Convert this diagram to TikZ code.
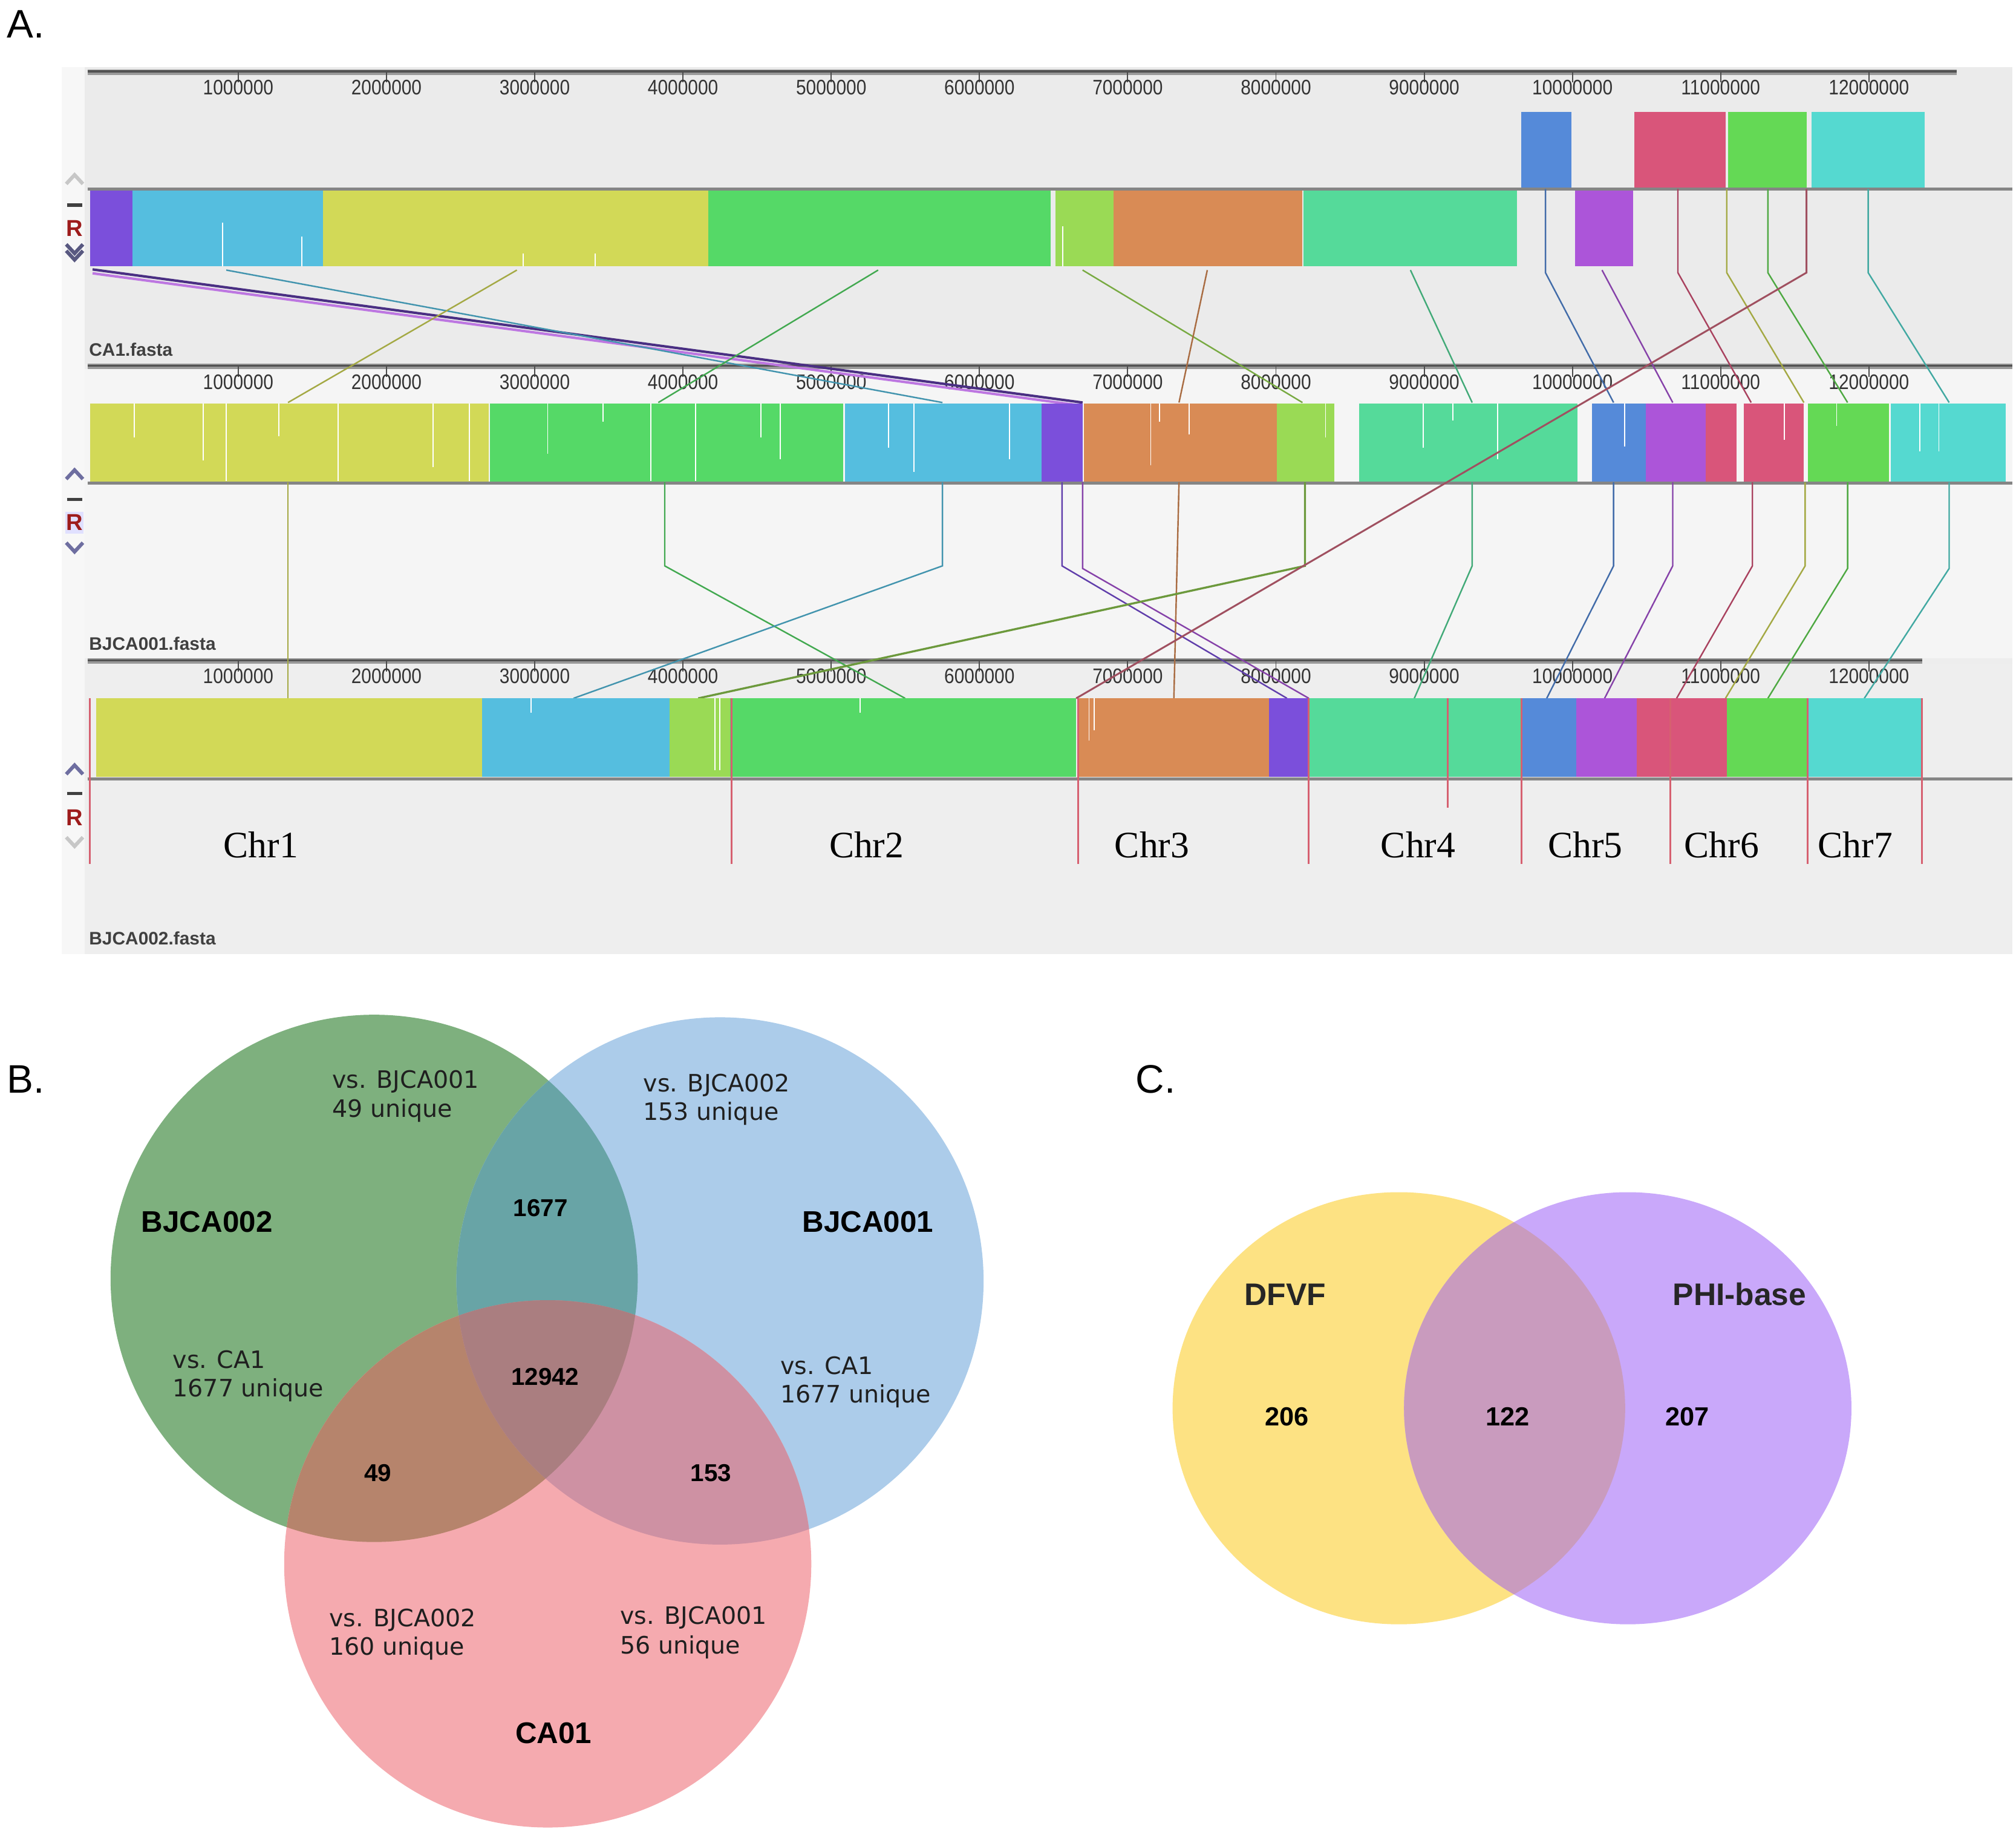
\documentclass[tikz,border=0pt]{standalone}
\usepackage{fontspec}
\setmainfont{Liberation Sans}
\newfontfamily\tickfont[FakeStretch=0.86]{Liberation Sans}
\newfontfamily\vennfont{DejaVu Sans}
\newfontfamily\chrfont{Liberation Serif}
\definecolor{cPur}{RGB}{123,79,219}
\definecolor{cLB}{RGB}{85,190,223}
\definecolor{cYel}{RGB}{210,217,87}
\definecolor{cGrn}{RGB}{85,217,103}
\definecolor{cLG}{RGB}{154,218,85}
\definecolor{cOra}{RGB}{217,139,85}
\definecolor{cTeal}{RGB}{85,218,154}
\definecolor{cBlu}{RGB}{85,138,217}
\definecolor{cMag}{RGB}{172,85,217}
\definecolor{cRed}{RGB}{217,85,122}
\definecolor{cGr2}{RGB}{100,217,85}
\definecolor{cCya}{RGB}{85,217,208}
\definecolor{cDR}{RGB}{160,80,96}
\definecolor{chrred}{RGB}{214,96,112}
\definecolor{rdark}{RGB}{158,28,28}
\definecolor{chev}{RGB}{110,110,160}
\definecolor{vG}{RGB}{126,176,126}
\definecolor{vB}{RGB}{172,204,234}
\definecolor{vR}{RGB}{245,170,175}
\definecolor{vGB}{RGB}{104,164,166}
\definecolor{vGR}{RGB}{182,132,108}
\definecolor{vBR}{RGB}{206,145,163}
\definecolor{vGBR}{RGB}{170,126,128}
\definecolor{cY}{RGB}{253,226,131}
\definecolor{cP}{RGB}{201,168,250}
\definecolor{cYP}{RGB}{201,155,190}
\newcommand\spk[3]{\draw[white, line width=0.5pt] (#1,#2) -- (#1,#3);}
\newcommand\chevup[3]{\draw[line width=1.6pt,#3,line join=miter] (#1-6.5,#2+4) -- (#1,#2-3) -- (#1+6.5,#2+4);}
\newcommand\chevdn[3]{\draw[line width=1.6pt,#3,line join=miter] (#1-6.5,#2-4) -- (#1,#2+3) -- (#1+6.5,#2-4);}
\newcommand\dsh[2]{\draw[line width=1.4pt,black!75] (#1-6,#2) -- (#1+6,#2);}
\begin{document}
\begin{tikzpicture}[x=0.2mm,y=-0.2mm,
  ticklbl/.style={font=\tickfont\fontsize{9.3}{10}\selectfont, text=black!80, inner sep=0, anchor=base},
  fastalbl/.style={font=\bfseries\fontsize{8}{9}\selectfont, text=black!75, inner sep=0, anchor=base west},
  chrlbl/.style={font=\chrfont\fontsize{16.5}{18}\selectfont, inner sep=0, anchor=base},
  rlbl/.style={font=\bfseries\fontsize{10.2}{11}\selectfont, text=rdark, inner sep=0, anchor=base},
  panellbl/.style={font=\fontsize{17.6}{19}\selectfont, inner sep=0, anchor=base west},
  vtxt/.style={font=\vennfont\fontsize{10.6}{12}\selectfont, text=black!88, inner sep=0, anchor=base west},
  vbig/.style={font=\bfseries\fontsize{13.2}{14}\selectfont, inner sep=0, anchor=base},
  vnum/.style={font=\bfseries\fontsize{10.8}{12}\selectfont, inner sep=0, anchor=base},
  cbig/.style={font=\bfseries\fontsize{13.8}{15}\selectfont, text=black!85, inner sep=0, anchor=base},
  cnum/.style={font=\bfseries\fontsize{11.6}{13}\selectfont, inner sep=0, anchor=base},
  ln/.style={draw=#1!78!black, line width=0.65pt},
  chrline/.style={draw=chrred, line width=0.8pt}
]
\useasboundingbox (0,0) rectangle (1568,1424.5);
\fill[white] (0,0) rectangle (1568,1424.5);

% ---------------- Panel A background ----------------
\fill[black!7] (48,52) rectangle (1565,742);
\fill[black!3] (48,52) rectangle (66,742);
\fill[black!8] (66,52) rectangle (1565,283);
\fill[black!4] (66,287) rectangle (1565,512);
\fill[black!6.5] (66,516) rectangle (1565,742);

\node[panellbl] (lblA) at (5,29.5) {A.};

% rulers
\foreach \ry/\rend in {56/1522,285/1565,514/1495} {
  \draw[line width=2.4pt, black!40] (68,\ry) -- (\rend,\ry);
  \draw[line width=0.9pt, black!68] (68,\ry-0.5) -- (\rend,\ry-0.5);
  \foreach \i in {1,...,12} {
    \draw[black!70, line width=0.5pt] ({70+115.3*\i},\ry) -- ({70+115.3*\i},\ry+8);
    \node[ticklbl] (tk-\ry-\i) at ({70+115.3*\i},\ry+17.5) {\i000000};
  }
}
% centre lines
\draw[line width=1.3pt, black!48] (68,147) -- (1565,147);
\draw[line width=1.3pt, black!48] (68,375.5) -- (1565,375.5);
\draw[line width=1.3pt, black!48] (68,605.5) -- (1565,605.5);

% ---------------- connectors track 1 -> 2 ----------------
\draw[line width=1.1pt, draw=cMag!80!white] (72,212.5) -- (838,315);
\draw[line width=1.1pt, draw=cPur!60!black] (72,209.5) -- (842,313);
\draw[ln=cLB] (176,210) -- (733,313);
\draw[ln=cYel] (402,210) -- (224,313);
\draw[ln=cGrn] (683,210) -- (512,313);
\draw[ln=cLG] (842,210) -- (1013,313);
\draw[ln=cOra] (939,210) -- (917,313);
\draw[ln=cTeal] (1097,210) -- (1145,313);
\draw[ln=cBlu] (1202,147) -- (1202,212) -- (1255,313);
\draw[ln=cMag] (1246,210) -- (1301,313);
\draw[ln=cRed] (1305,147) -- (1305,212) -- (1362,313);
\draw[ln=cYel] (1343,147) -- (1343,212) -- (1403,313);
\draw[ln=cGr2] (1375,147) -- (1375,212) -- (1437,313);
\draw[ln=cCya] (1453,147) -- (1453,212) -- (1516,313);

% ---------------- connectors track 2 -> 3 ----------------
\draw[ln=cYel] (224,375) -- (224,543);
\draw[ln=cGrn] (517,375) -- (517,440) -- (704,543);
\draw[ln=cLB] (733,375) -- (733,440) -- (446,543);
\draw[ln=cPur] (826,375) -- (826,440) -- (1001,543);
\draw[ln=cMag] (842,375) -- (842,442) -- (1018,543);
\draw[ln=cOra] (917,375) -- (913,543);
\draw[line width=0.9pt, draw=cLG!70!black] (1015,375) -- (1015,440) -- (543,543);
\draw[ln=cTeal] (1145,375) -- (1145,440) -- (1100,543);
\draw[ln=cBlu] (1255,375) -- (1255,440) -- (1203,543);
\draw[ln=cMag] (1301,375) -- (1301,440) -- (1248,543);
\draw[ln=cRed] (1363,375) -- (1363,440) -- (1304,543);
\draw[ln=cYel] (1404,375) -- (1404,440) -- (1342,543);
\draw[ln=cGr2] (1437,375) -- (1437,442) -- (1375,543);
\draw[ln=cCya] (1516,375) -- (1516,442) -- (1450,543);

% ---------------- track 1 blocks ----------------
\fill[cPur] (70,148) rectangle (103,207);
\fill[cLB] (103,148) rectangle (251,207);
\fill[cYel] (251,148) rectangle (551,207);
\fill[cGrn] (551,148) rectangle (817,207);
\fill[cLG] (821,148) rectangle (866,207);
\fill[cOra] (866,148) rectangle (1013,207);
\fill[cTeal] (1014,148) rectangle (1180,207);
\fill[cMag] (1225,148) rectangle (1270,207);
\fill[cBlu] (1183,87) rectangle (1222,146);
\fill[cRed] (1271,87) rectangle (1342,146);
\fill[cGr2] (1344,87) rectangle (1405,146);
\fill[cCya] (1409,87) rectangle (1497,146);
\spk{173}{207}{173}\spk{234.6}{207}{184}\spk{407}{207}{197}\spk{463}{207}{197}\spk{826.6}{207}{176}

% ---------------- track 2 blocks ----------------
\fill[cYel] (70,314) rectangle (380,374.5);
\fill[cGrn] (381,314) rectangle (656,374.5);
\fill[cLB] (657,314) rectangle (810,374.5);
\fill[cPur] (810,314) rectangle (842,374.5);
\fill[cOra] (843,314) rectangle (993,374.5);
\fill[cLG] (993,314) rectangle (1038,374.5);
\fill[cTeal] (1057,314) rectangle (1227,374.5);
\fill[cBlu] (1238,314) rectangle (1280,374.5);
\fill[cMag] (1280,314) rectangle (1326.5,374.5);
\fill[cRed] (1326.5,314) rectangle (1350.5,374.5);
\fill[cRed] (1356.5,314) rectangle (1403,374.5);
\fill[cGr2] (1406,314) rectangle (1469,374.5);
\fill[cCya] (1470.5,314) rectangle (1560,374.5);
\spk{104.6}{314}{340}\spk{158}{314}{358}\spk{176}{314}{374}\spk{217}{314}{339}\spk{263}{314}{374}\spk{337}{314}{363}\spk{365}{314}{374}
\spk{426}{314}{353}\spk{469}{314}{328}\spk{506}{314}{374}\spk{541}{314}{374}\spk{592}{314}{340}\spk{607}{314}{357}
\spk{691}{314}{348}\spk{711}{314}{367}\spk{785}{314}{357}
\spk{895}{314}{362}\spk{902}{314}{328}\spk{925}{314}{338}
\spk{1031}{314}{340}\spk{1107}{314}{348}\spk{1130}{314}{327}\spk{1165}{314}{357}
\spk{1263.5}{314}{347}\spk{1388}{314}{342}\spk{1428.5}{314}{331}\spk{1493}{314}{351}\spk{1508}{314}{351}

% ---------------- track 3 blocks ----------------
\fill[cYel] (75,543) rectangle (375,604);
\fill[cLB] (375,543) rectangle (521,604);
\fill[cLG] (521,543) rectangle (568,604);
\fill[cGrn] (568,543) rectangle (837,604);
\fill[cOra] (839,543) rectangle (987,604);
\fill[cPur] (987,543) rectangle (1018,604);
\fill[cTeal] (1018,543) rectangle (1184,604);
\fill[cBlu] (1184,543) rectangle (1226,604);
\fill[cMag] (1226,543) rectangle (1273,604);
\fill[cRed] (1273,543) rectangle (1343,604);
\fill[cGr2] (1343,543) rectangle (1406,604);
\fill[cCya] (1406,543) rectangle (1495,604);
\spk{413}{543}{554}\spk{556}{543}{599}\spk{560}{543}{599}\spk{669}{543}{554}\spk{847}{543}{576}\spk{851}{543}{568}

% long dark-red connector, drawn over the blocks
\draw[line width=0.8pt, draw=cDR] (1405,147) -- (1405,212) -- (837,543);

% chromosome borders
\foreach \cx in {70,569,838.5,1018,1183.5,1299,1406,1495}
  \draw[chrline] (\cx,543) -- (\cx,672);
\draw[chrline] (1126,543) -- (1126,628);

\node[chrlbl] (chr1) at (203,667) {Chr1};
\node[chrlbl] (chr2) at (674,667) {Chr2};
\node[chrlbl] (chr3) at (896,667) {Chr3};
\node[chrlbl] (chr4) at (1103,667) {Chr4};
\node[chrlbl] (chr5) at (1233,667) {Chr5};
\node[chrlbl] (chr6) at (1339,667) {Chr6};
\node[chrlbl] (chr7) at (1443,667) {Chr7};

\node[fastalbl] (f1) at (69,276.7) {CA1.fasta};
\node[fastalbl] (f2) at (69,505.5) {BJCA001.fasta};
\node[fastalbl] (f3) at (69,734.5) {BJCA002.fasta};

% sidebar icons
\chevup{58}{139}{black!22}\dsh{58}{159.5}\node[rlbl] (r1) at (58,183.5) {R};\chevdn{58}{194}{chev!80!black}\chevdn{58}{199}{chev!80!black}
\fill[blue!12!white] (51,398) rectangle (65,415);
\chevup{58}{368.5}{chev}\dsh{58}{388.5}\node[rlbl] (r2) at (58,412.5) {R};\chevdn{58}{426}{chev}
\chevup{58}{598}{chev}\dsh{58}{617}\node[rlbl] (r3) at (58,642) {R};\chevdn{58}{655}{black!22}

% ---------------- Panel B ----------------
\node[panellbl] (lblB) at (5,850) {B.};
\fill[vG] (291,994) circle[radius=205];
\fill[vB] (560,996) circle[radius=205];
\fill[vR] (426,1216) circle[radius=205];
\begin{scope}
  \clip (291,994) circle[radius=205];
  \fill[vGB] (560,996) circle[radius=205];
  \fill[vGR] (426,1216) circle[radius=205];
\end{scope}
\begin{scope}
  \clip (560,996) circle[radius=205];
  \fill[vBR] (426,1216) circle[radius=205];
  \clip (291,994) circle[radius=205];
  \fill[vGBR] (426,1216) circle[radius=205];
\end{scope}
\node[vtxt] (b1a) at (258,846) {vs. BJCA001};
\node[vtxt] (b1b) at (258,868.5) {49 unique};
\node[vtxt] (b2a) at (500,849) {vs. BJCA002};
\node[vtxt] (b2b) at (500,871) {153 unique};
\node[vbig] (bj2) at (161,958) {BJCA002};
\node[vbig] (bj1) at (675,958) {BJCA001};
\node[vnum] (n1677) at (420.5,945.6) {1677};
\node[vtxt] (b3a) at (134,1064) {vs. CA1};
\node[vtxt] (b3b) at (134,1086) {1677 unique};
\node[vtxt] (b4a) at (606.6,1068.5) {vs. CA1};
\node[vtxt] (b4b) at (606.6,1090.5) {1677 unique};
\node[vnum] (n12942) at (424,1077) {12942};
\node[vnum] (n49) at (294,1152) {49};
\node[vnum] (n153) at (553,1152) {153};
\node[vtxt] (b5a) at (255.7,1265) {vs. BJCA002};
\node[vtxt] (b5b) at (255.7,1287) {160 unique};
\node[vtxt] (b6a) at (482,1263) {vs. BJCA001};
\node[vtxt] (b6b) at (482,1286) {56 unique};
\node[vbig] (ca01) at (430.5,1355.7) {CA01};

% ---------------- Panel C ----------------
\node[panellbl] (lblC) at (883,850) {C.};
\fill[cY] (1088,1095) ellipse[x radius=176, y radius=168];
\fill[cP] (1266,1095) ellipse[x radius=174, y radius=168];
\begin{scope}
  \clip (1088,1095) ellipse[x radius=176, y radius=168];
  \fill[cYP] (1266,1095) ellipse[x radius=174, y radius=168];
\end{scope}
\node[cbig] (dfvf) at (999.5,1015) {DFVF};
\node[cbig] (phi) at (1353,1015) {PHI-base};
\node[cnum] (n206) at (1001,1108.6) {206};
\node[cnum] (n122) at (1172.5,1108.6) {122};
\node[cnum] (n207) at (1312.5,1108.6) {207};
\end{tikzpicture}
\end{document}
